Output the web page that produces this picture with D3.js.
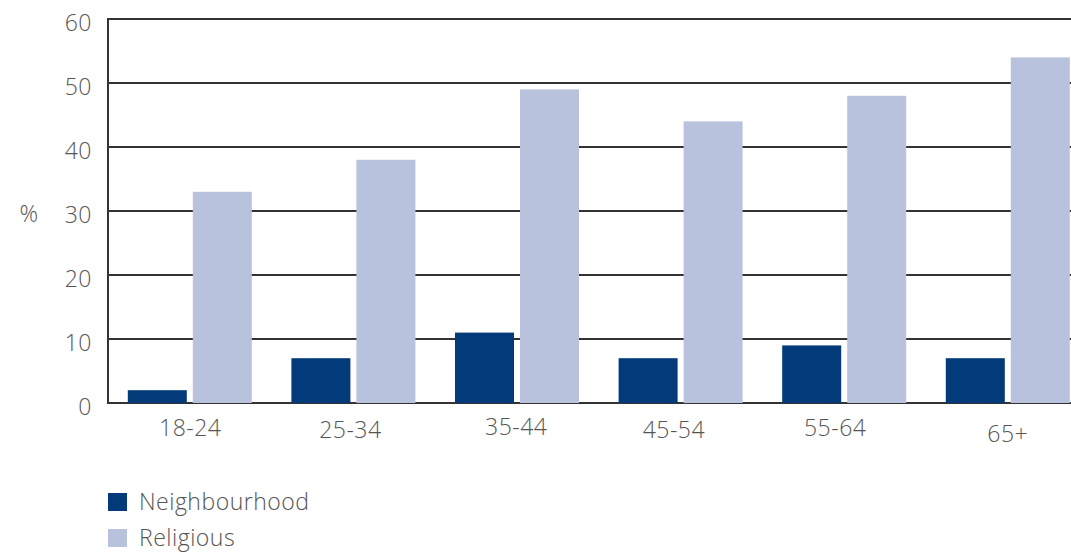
<!DOCTYPE html>
<html>
<head>
<meta charset="utf-8">
<script src="https://cdn.jsdelivr.net/npm/d3@7"></script>
<style>
  html, body { margin: 0; padding: 0; background: #fff; }
  svg { display: block; }
  text { font-family: "Open Sans", "Noto Sans", sans-serif; font-weight: 300; fill: #555; letter-spacing: 0.5px; }
</style>
</head>
<body>
<svg id="chart" width="1071" height="554"></svg>
<script>
// Age groups and the share (%) in each type of group
const ageGroups = ["18-24", "25-34", "35-44", "45-54", "55-64", "65+"];
const seriesNames = ["Neighbourhood", "Religious"];
const neighbourhood = [2, 7, 11, 7, 9, 7];
const religious = [33, 38, 49, 44, 48, 54];
const yTicks = [0, 10, 20, 30, 40, 50, 60];

const colors = { "Neighbourhood": "#033b7a", "Religious": "#b9c2dd" };
const seriesValues = { "Neighbourhood": neighbourhood, "Religious": religious };

const svg = d3.select("#chart");

const plotLeft = 108, plotTop = 19, plotBottom = 403;
const step = 163.6;

const x0 = d3.scaleBand()
  .domain(ageGroups)
  .range([plotLeft, plotLeft + step * ageGroups.length])
  .padding(0);

const groupWidth = 124;
const x1 = d3.scaleBand()
  .domain(seriesNames)
  .range([(x0.bandwidth() - groupWidth) / 2, (x0.bandwidth() + groupWidth) / 2])
  .paddingInner(6 / 65)
  .paddingOuter(0);

const y = d3.scaleLinear().domain([0, 60]).range([plotBottom, plotTop]);

// horizontal rules
svg.append("g")
  .selectAll("line")
  .data(yTicks)
  .join("line")
  .attr("x1", plotLeft)
  .attr("x2", 1071)
  .attr("y1", d => y(d))
  .attr("y2", d => y(d))
  .attr("stroke", "#333")
  .attr("stroke-width", 2);

// vertical axis line
svg.append("line")
  .attr("x1", plotLeft).attr("x2", plotLeft)
  .attr("y1", y(60) - 1).attr("y2", y(0) + 1)
  .attr("stroke", "#333")
  .attr("stroke-width", 2);

// bars
const groups = svg.append("g")
  .selectAll("g")
  .data(ageGroups)
  .join("g")
  .attr("transform", d => `translate(${x0(d)},0)`);

groups.selectAll("rect")
  .data((d, i) => seriesNames.map(s => ({ series: s, value: seriesValues[s][i] })))
  .join("rect")
  .attr("x", d => x1(d.series))
  .attr("width", x1.bandwidth())
  .attr("y", d => y(d.value))
  .attr("height", d => y(0) - y(d.value))
  .attr("fill", d => colors[d.series]);

// y tick labels
svg.append("g")
  .selectAll("text")
  .data(yTicks)
  .join("text")
  .attr("x", 92)
  .attr("y", d => y(d) + 6)
  .attr("text-anchor", "end")
  .attr("dominant-baseline", "middle")
  .style("font-size", "23px")
  .text(d => d);

svg.append("text")
  .attr("x", 29)
  .attr("y", y(30) + 5)
  .attr("text-anchor", "middle")
  .attr("dominant-baseline", "middle")
  .style("font-size", "23px")
  .text("%");

// category labels (slightly irregular placement)
const labelNudge = [[0.5, 0], [-3, 2.5], [-0.7, -0.5], [-6.7, 2.5], [-9, 0.5], [0, 6]];
svg.append("g")
  .selectAll("text")
  .data(ageGroups)
  .join("text")
  .attr("x", (d, i) => x0(d) + x0.bandwidth() / 2 + labelNudge[i][0])
  .attr("y", (d, i) => 435.5 + labelNudge[i][1])
  .attr("text-anchor", "middle")
  .style("font-size", "23px")
  .text(d => d);

// legend
const legend = svg.append("g")
  .selectAll("g")
  .data(seriesNames)
  .join("g")
  .attr("transform", (d, i) => `translate(108,${493 + i * 36})`);

legend.append("rect")
  .attr("width", 19)
  .attr("height", 18)
  .attr("fill", d => colors[d]);

legend.append("text")
  .attr("x", 31)
  .attr("y", 16.5)
  .style("font-size", "23px")
  .text(d => d);
</script>
</body>
</html>
